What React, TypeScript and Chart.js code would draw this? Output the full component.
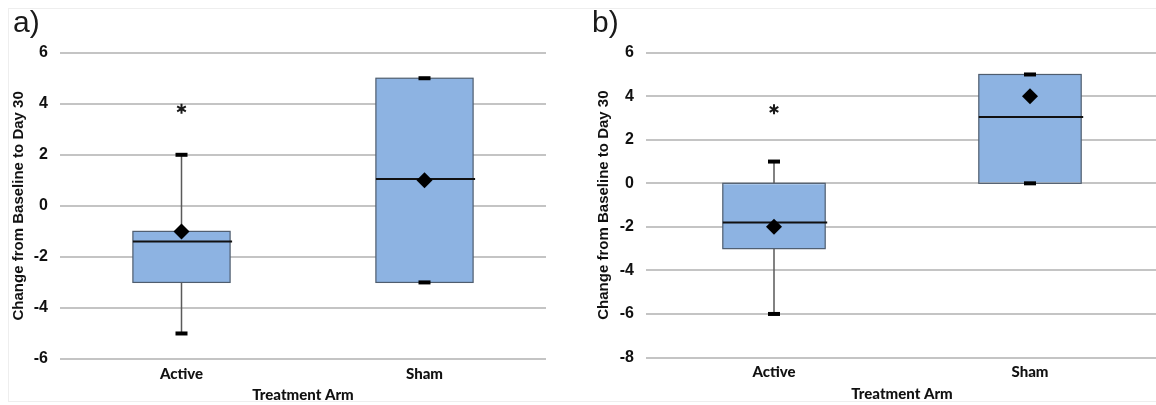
import React, { useEffect, useRef } from 'react';
import { Chart, registerables } from 'chart.js';

Chart.register(...registerables);

// ---------- data ----------
const CATEGORIES = ['Active', 'Sham'];

// panel a
const A_Q1 = [-3, -3];
const A_Q3 = [-1, 5];
const A_MEDIAN = [-1.4, 1.05];
const A_MEAN = [-1, 1];
const A_WHISKER_LOW = [-5, -3];
const A_WHISKER_HIGH = [2, 5];
const A_OUTLIERS = [[3.8], []];
const A_Y_TICKS = [-6, -4, -2, 0, 2, 4, 6];

// panel b
const B_Q1 = [-3, 0];
const B_Q3 = [0, 5];
const B_MEDIAN = [-1.8, 3.05];
const B_MEAN = [-2, 4];
const B_WHISKER_LOW = [-6, 0];
const B_WHISKER_HIGH = [1, 5];
const B_OUTLIERS = [[3.4], []];
const B_Y_TICKS = [-8, -6, -4, -2, 0, 2, 4, 6];

const Y_TITLE = 'Change from Baseline to Day 30';
const X_TITLE = 'Treatment Arm';

// ---------- styles ----------
const CALIBRI_LIKE = 'Lato, "Open Sans", sans-serif';
const ARIAL = '"Liberation Sans", Arial, sans-serif';
const BOX_FILL = '#8db3e2';
const BOX_BORDER = '#4f5d6e';
const GRID = '#c4c4c4';

type PanelSpec = {
  letter: string;
  letterX: number;
  q1: number[];
  q3: number[];
  median: number[];
  mean: number[];
  lo: number[];
  hi: number[];
  outliers: number[][];
  yTicks: number[];
  width: number;
  height: number;
  axisWidth: number;
  axisHeight: number;
  padRight: number;
  padTop: number;
  yTitlePad: number;
  xTitlePad: number;
};

function makePlugin(spec: PanelSpec) {
  return {
    id: 'boxExtras',
    afterDatasetDraw(chart: any, args: any) {
      if (args.index !== 0) return;
      const ctx = chart.ctx;
      const xs = chart.scales.x;
      const ys = chart.scales.y;
      const meta = chart.getDatasetMeta(0);
      ctx.save();
      CATEGORIES.forEach((_, i) => {
        const cx = xs.getPixelForValue(i);
        const bar = meta.data[i];
        const half = bar ? bar.width / 2 : 40;
        const yq1 = ys.getPixelForValue(spec.q1[i]);
        const yq3 = ys.getPixelForValue(spec.q3[i]);
        const ylo = ys.getPixelForValue(spec.lo[i]);
        const yhi = ys.getPixelForValue(spec.hi[i]);
        // box outline
        ctx.strokeStyle = BOX_BORDER;
        ctx.lineWidth = 1.2;
        ctx.strokeRect(cx - half, Math.min(yq1, yq3), half * 2, Math.abs(yq1 - yq3));
        // whiskers
        ctx.strokeStyle = '#5a5a5a';
        ctx.lineWidth = 1.5;
        ctx.beginPath();
        ctx.moveTo(cx, yq3);
        ctx.lineTo(cx, yhi);
        ctx.moveTo(cx, yq1);
        ctx.lineTo(cx, ylo);
        ctx.stroke();
        // caps
        ctx.fillStyle = '#000';
        [ylo, yhi].forEach((y) => {
          ctx.fillRect(cx - 6, y - 2, 12, 4);
        });
        // median
        const ym = ys.getPixelForValue(spec.median[i]);
        ctx.strokeStyle = '#111';
        ctx.lineWidth = 2;
        ctx.beginPath();
        ctx.moveTo(cx - half, ym);
        ctx.lineTo(cx + half + 2, ym);
        ctx.stroke();
        // outliers (asterisk)
        spec.outliers[i].forEach((v) => {
          const oy = ys.getPixelForValue(v);
          ctx.strokeStyle = '#1a1a1a';
          ctx.lineWidth = 2;
          ctx.beginPath();
          const r = 5;
          [90, 30, 150].forEach((deg) => {
            const a = (deg * Math.PI) / 180;
            ctx.moveTo(cx - r * Math.cos(a), oy - r * Math.sin(a));
            ctx.lineTo(cx + r * Math.cos(a), oy + r * Math.sin(a));
          });
          ctx.stroke();
        });
      });
      ctx.restore();
    },
    afterDraw(chart: any) {
      const ctx = chart.ctx;
      ctx.save();
      ctx.fillStyle = '#1a1a1a';
      ctx.font = `30px ${ARIAL}`;
      ctx.textBaseline = 'alphabetic';
      ctx.textAlign = 'left';
      ctx.fillText(spec.letter, spec.letterX, 32);
      ctx.restore();
    },
  };
}

function Panel({ spec, left }: { spec: PanelSpec; left: number }) {
  const ref = useRef<HTMLCanvasElement | null>(null);
  useEffect(() => {
    if (!ref.current) return;
    const chart = new Chart(ref.current, {
      type: 'bar',
      data: {
        labels: CATEGORIES,
        datasets: [
          {
            type: 'bar',
            data: CATEGORIES.map((_, i) => [spec.q1[i], spec.q3[i]]) as any,
            backgroundColor: BOX_FILL,
            borderWidth: 0,
            barPercentage: 0.4,
            categoryPercentage: 1,
            order: 2,
          } as any,
          {
            type: 'line',
            data: spec.mean,
            showLine: false,
            pointStyle: 'rectRot',
            pointRadius: 8,
            backgroundColor: '#000',
            borderColor: '#000',
            borderWidth: 0,
            order: 1,
          } as any,
        ],
      },
      options: {
        responsive: false,
        animation: false,
        devicePixelRatio: 1,
        layout: { padding: { top: spec.padTop, right: spec.padRight, left: 0, bottom: 0 } },
        plugins: { legend: { display: false }, tooltip: { enabled: false } },
        scales: {
          x: {
            type: 'category',
            grid: { display: false, drawTicks: false },
            border: { display: false },
            ticks: {
              color: '#111',
              padding: 6,
              font: { family: CALIBRI_LIKE, size: 15, weight: '900' },
            },
            title: {
              display: true,
              text: X_TITLE,
              color: '#111',
              padding: { top: 0, bottom: spec.xTitlePad },
              font: { family: CALIBRI_LIKE, size: 15, weight: '900' },
            },
            afterFit: (axis: any) => {
              axis.height = spec.axisHeight;
            },
          },
          y: {
            min: spec.yTicks[0],
            max: spec.yTicks[spec.yTicks.length - 1],
            grid: { color: GRID, lineWidth: 2, drawTicks: false },
            border: { display: false },
            afterBuildTicks: (axis: any) => {
              axis.ticks = spec.yTicks.map((v) => ({ value: v }));
            },
            ticks: {
              color: '#111',
              padding: 12,
              font: { family: ARIAL, size: 16, weight: 'bold' },
            },
            title: {
              display: true,
              text: Y_TITLE,
              color: '#111',
              padding: { top: spec.yTitlePad, bottom: 0 },
              font: { family: ARIAL, size: 15, weight: 'bold' },
            },
            afterFit: (axis: any) => {
              axis.width = spec.axisWidth;
            },
          },
        },
      } as any,
      plugins: [makePlugin(spec) as any],
    });
    return () => chart.destroy();
  }, [spec]);
  return (
    <canvas
      ref={ref}
      width={spec.width}
      height={spec.height}
      style={{ position: 'absolute', left, top: 0, width: spec.width, height: spec.height }}
    />
  );
}

const SPEC_A: PanelSpec = {
  letter: 'a)',
  letterX: 13,
  q1: A_Q1,
  q3: A_Q3,
  median: A_MEDIAN,
  mean: A_MEAN,
  lo: A_WHISKER_LOW,
  hi: A_WHISKER_HIGH,
  outliers: A_OUTLIERS,
  yTicks: A_Y_TICKS,
  width: 576,
  height: 405,
  axisWidth: 60,
  axisHeight: 46,
  padRight: 30,
  padTop: 52.7,
  yTitlePad: 9.5,
  xTitlePad: 1,
};

const SPEC_B: PanelSpec = {
  letter: 'b)',
  letterX: 16,
  q1: B_Q1,
  q3: B_Q3,
  median: B_MEDIAN,
  mean: B_MEAN,
  lo: B_WHISKER_LOW,
  hi: B_WHISKER_HIGH,
  outliers: B_OUTLIERS,
  yTicks: B_Y_TICKS,
  width: 590,
  height: 405,
  axisWidth: 70,
  axisHeight: 47.5,
  padRight: 8,
  padTop: 52.7,
  yTitlePad: 19,
  xTitlePad: 2,
};

export default function App() {
  return (
    <div
      style={{
        position: 'fixed',
        left: 0,
        top: 0,
        width: 1156,
        height: 405,
        overflow: 'hidden',
        background: '#fff',
      }}
    >
      <div
        style={{
          position: 'absolute',
          left: 8,
          top: 8,
          width: 1160,
          height: 394,
          border: '1px solid #eeeeee',
          boxSizing: 'border-box',
        }}
      />
      <Panel spec={SPEC_A} left={0} />
      <Panel spec={SPEC_B} left={576} />
    </div>
  );
}
